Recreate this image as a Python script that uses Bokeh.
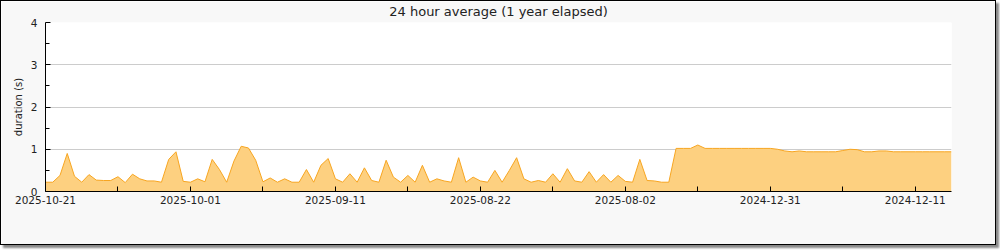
from bokeh.plotting import figure
from bokeh.models import Range1d, FixedTicker
from bokeh.embed import file_html
from bokeh.resources import INLINE

# ---- data (newest first, index based x axis) ----
durations = [
    0.22, 0.22, 0.38, 0.90, 0.36, 0.22, 0.40, 0.27, 0.26, 0.26,
    0.35, 0.21, 0.41, 0.30, 0.25, 0.25, 0.22, 0.76, 0.94, 0.24,
    0.22, 0.30, 0.23, 0.76, 0.52, 0.22, 0.72, 1.07, 1.03, 0.74,
    0.23, 0.32, 0.22, 0.30, 0.22, 0.22, 0.52, 0.22, 0.62, 0.78,
    0.30, 0.22, 0.42, 0.22, 0.56, 0.26, 0.22, 0.74, 0.34, 0.22,
    0.38, 0.22, 0.62, 0.22, 0.30, 0.25, 0.22, 0.80, 0.22, 0.34,
    0.25, 0.22, 0.50, 0.22, 0.50, 0.80, 0.30, 0.22, 0.26, 0.22,
    0.42, 0.22, 0.54, 0.25, 0.22, 0.47, 0.22, 0.40, 0.22, 0.38,
    0.24, 0.22, 0.76, 0.26, 0.25, 0.22, 0.22, 1.02, 1.02, 1.02,
    1.10, 1.02, 1.02, 1.02, 1.02, 1.02, 1.02, 1.02, 1.02, 1.02,
    1.02, 1.00, 0.96, 0.94, 0.96, 0.94, 0.94, 0.94, 0.94, 0.94,
    0.97, 1.00, 0.99, 0.94, 0.94, 0.96, 0.96, 0.94, 0.94, 0.94,
    0.94, 0.94, 0.94, 0.94, 0.94, 0.94,
]
index = list(range(len(durations)))
zeros = [0.0] * len(durations)

tick_index = [0, 20, 40, 60, 80, 100, 120]
tick_labels = ["2025-10-21", "2025-10-01", "2025-09-11", "2025-08-22",
               "2025-08-02", "2024-12-31", "2024-12-11"]
minor_tick_index = [10, 30, 50, 70, 90, 110]

title_text = "24 hour average (1 year elapsed)"
y_label = "duration (s)"

FONT = "DejaVu Sans"

p = figure(width=996, height=245, output_backend="svg", toolbar_location=None,
           x_range=Range1d(0, len(durations) - 1), y_range=Range1d(0, 4),
           min_border_left=44, min_border_right=46, min_border_bottom=55,
           min_border_top=21)
p.styles = {"border": "1px solid black", "box-shadow": "3px 3px 2px #888"}

p.title.text = title_text
p.title.align = "center"
p.title.vertical_align = "top"
p.title.text_font = FONT
p.title.text_font_size = "13px"
p.title.text_font_style = "normal"
p.title.text_color = "#222222"
p.title.standoff = 4

p.background_fill_color = "white"
p.border_fill_color = "#f8f8f8"
p.outline_line_color = None

# area + line
p.varea(x=index, y1=zeros, y2=durations, fill_color="#fdd080", fill_alpha=1.0)
p.line(x=index, y=durations, line_color="#f7a520", line_width=1)

# x axis
xa = p.xaxis[0]
xa.ticker = FixedTicker(ticks=sorted(tick_index + minor_tick_index))
overrides = {i: "" for i in minor_tick_index}
overrides.update({i: lab for i, lab in zip(tick_index, tick_labels)})
xa.major_label_overrides = overrides
xa.major_tick_in = 5
xa.major_tick_out = 0
xa.minor_tick_line_color = None
xa.axis_line_color = "black"
xa.major_tick_line_color = "black"
xa.major_label_text_font = FONT
xa.major_label_text_font_size = "10.5px"
xa.major_label_text_color = "#222222"
xa.major_label_standoff = 4

# y axis
ya = p.yaxis[0]
ya.ticker = FixedTicker(ticks=[0, 1, 2, 3, 4], minor_ticks=[0.5, 1.5, 2.5, 3.5])
ya.major_tick_in = 5
ya.major_tick_out = 0
ya.minor_tick_in = 4
ya.minor_tick_out = 0
ya.axis_line_color = "black"
ya.major_tick_line_color = "black"
ya.minor_tick_line_color = "black"
ya.major_label_text_font = FONT
ya.major_label_text_font_size = "10.5px"
ya.major_label_text_color = "#222222"
ya.major_label_standoff = 8
ya.axis_label = y_label
ya.axis_label_text_font = FONT
ya.axis_label_text_font_size = "10px"
ya.axis_label_text_font_style = "normal"
ya.axis_label_text_color = "#222222"
ya.axis_label_standoff = 4

p.xgrid.grid_line_color = None
p.ygrid.grid_line_color = "#cccccc"
p.ygrid.grid_line_width = 1

open("out.html", "w").write(file_html(p, INLINE))
